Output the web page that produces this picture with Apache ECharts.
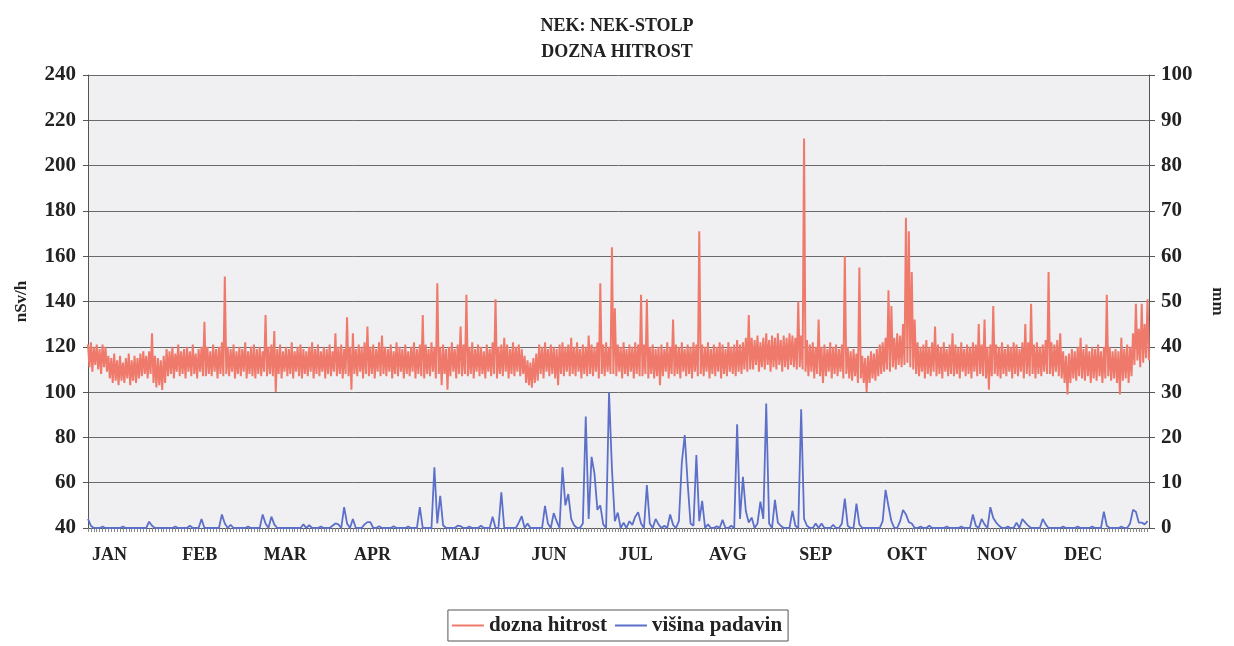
<!DOCTYPE html>
<html>
<head>
<meta charset="utf-8">
<title>NEK: NEK-STOLP – DOZNA HITROST</title>
<script src="https://cdn.jsdelivr.net/npm/echarts@6/dist/echarts.min.js"></script>
<style>
  html, body { margin: 0; padding: 0; background: #ffffff; }
  #chart { width: 1234px; height: 646px; }
</style>
</head>
<body>
<div id="chart"></div>
<script>
// Month names and the day index (0-based) on which each month starts
const monthNames = ['JAN', 'FEB', 'MAR', 'APR', 'MAJ', 'JUN', 'JUL', 'AVG', 'SEP', 'OKT', 'NOV', 'DEC'];
const monthStarts = [0, 31, 59, 90, 120, 151, 181, 212, 243, 273, 304, 334];

// Axis ranges
const doseTicks = { min: 40, max: 240, step: 20 };
const rainTicks = { min: 0, max: 100, step: 10 };

// Daily maximum of the dose rate, nSv/h
const doseMax = [
  121,122,120,121,119,121,120,116,115,117,
  114,116,113,115,117,114,116,115,117,118,
  116,118,126,116,115,114,116,119,118,120,
  117,121,118,119,120,118,121,117,119,120,
  131,120,118,121,119,120,122,151,120,119,
  121,118,120,119,122,118,120,121,119,120,
  118,134,120,121,127,119,121,118,120,119,
  122,118,120,121,119,118,120,122,119,121,
  118,120,119,121,118,126,120,121,119,133,
  120,126,119,121,120,122,129,120,121,119,
  122,125,120,119,121,118,122,120,119,121,
  118,120,122,119,121,134,121,119,122,120,
  148,120,121,119,120,122,119,121,129,121,
  143,120,122,119,121,120,118,121,119,122,
  141,120,121,124,121,119,122,120,121,119,
  116,114,113,115,117,121,120,122,119,121,
  120,119,121,122,120,121,124,120,122,119,
  121,120,125,121,120,122,148,121,122,120,
  164,137,121,120,122,119,121,120,122,121,
  143,121,141,120,121,119,120,121,119,122,
  120,132,121,120,122,119,121,120,122,121,
  171,121,120,122,119,121,120,122,121,119,
  122,120,121,123,121,122,124,134,124,123,
  125,122,124,126,123,125,124,126,123,125,
  124,126,125,124,140,125,212,123,121,122,
  120,132,120,121,119,122,120,121,119,121,
  160,120,118,119,117,155,116,115,116,118,
  117,119,121,122,124,145,138,124,126,125,
  130,177,171,153,132,122,120,121,123,120,
  122,129,121,120,122,119,121,126,121,120,
  122,119,121,120,122,121,130,121,132,120,
  121,138,121,120,122,119,121,120,122,121,
  119,122,130,122,139,121,122,120,121,123,
  153,122,121,123,126,118,116,117,119,118,
  120,124,119,121,118,120,119,121,118,120,
  143,120,118,119,118,124,119,121,120,126,
  139,128,139,130,141
];

// Daily minimum of the dose rate, nSv/h
const doseMin = [
  111,109,112,110,108,111,109,106,104,105,
  103,105,104,106,103,105,104,106,107,108,
  106,108,104,102,103,101,104,107,108,106,
  109,107,108,106,109,107,108,106,109,107,
  107,108,107,109,106,108,107,108,107,109,
  106,108,107,109,106,108,107,106,108,107,
  109,107,108,107,100,108,106,109,107,108,
  106,109,107,106,108,107,109,106,108,107,
  109,106,108,107,109,107,108,106,108,107,
  101,108,107,109,106,108,107,108,106,109,
  107,108,107,109,106,108,107,109,106,108,
  107,109,106,108,107,106,108,107,109,106,
  108,103,108,101,107,109,106,108,107,108,
  107,108,106,109,107,108,106,109,107,108,
  106,108,107,109,106,108,107,109,107,108,
  104,103,102,104,105,108,106,109,107,108,
  106,103,108,107,109,107,108,107,109,106,
  108,107,108,107,109,106,108,107,109,108,
  108,107,109,106,108,107,109,106,108,107,
  107,108,106,108,106,107,103,107,109,106,
  108,107,108,106,109,107,108,106,109,107,
  108,107,109,106,108,107,109,106,108,107,
  109,108,107,109,108,110,109,110,110,112,
  109,111,110,112,109,111,110,112,109,111,
  110,112,111,110,111,110,109,107,109,106,
  108,107,104,107,109,106,108,107,109,106,
  108,106,105,107,104,106,104,100,104,106,
  105,107,108,109,110,109,111,110,112,111,
  112,113,111,110,108,107,109,106,108,107,
  109,107,108,106,109,107,108,107,108,106,
  109,107,108,106,109,107,108,107,106,101,
  107,108,107,106,108,107,109,106,108,107,
  109,106,108,107,108,106,108,107,109,108,
  108,107,109,107,106,104,99,104,106,105,
  107,106,105,107,104,106,105,107,104,106,
  107,105,106,104,99,105,106,104,107,112,
  114,111,113,115,114
];

// Daily precipitation, mm
const rainfall = [
  2,0.5,0,0,0,0.3,0,0,0,0,
  0,0,0.3,0,0,0,0,0,0,0,
  0,1.4,0.5,0,0,0,0,0,0,0,
  0.3,0,0,0,0,0.5,0,0,0,2,
  0,0,0,0,0,0,3,1,0,0.7,
  0,0,0,0,0,0.3,0,0,0,0,
  3,1,0,2.5,0.8,0,0,0,0,0,
  0,0,0,0,0.8,0,0.6,0,0,0,
  0.3,0,0,0,0.5,1,0.8,0,4.6,1,
  0,2,0,0,0,0.8,1.3,1.3,0,0,
  0.4,0,0,0,0,0.4,0,0,0,0,
  0.3,0,0,0,4.6,0,0,0,0,13.4,
  1,7.1,0.6,0,0,0,0,0.5,0.4,0,
  0,0.3,0,0,0,0.5,0,0,0,2.5,
  0,0,7.9,0,0,0,0,0,1.2,2.6,
  0,1,0,0,0,0,0,4.9,1,0,
  3.3,1.5,0,13.4,5,7.5,2,0.6,0,0,
  1,24.6,2,15.7,12,4,5,0.8,0,29.9,
  13,1.5,3.4,0,1.2,0,1.5,0.7,2.5,3.5,
  1,0,9.5,1,0,2,0.8,0,0.5,0,
  3,0.7,0,1.5,14.4,20.5,10,1,0.5,16.1,
  1.5,6,0,0.8,0,0,0.4,0,1.8,0,
  0,0.5,0,22.9,2,11.3,3.7,1.2,2.3,0,
  1,5.8,2,27.5,1,0,6.2,1.2,0.5,0,
  0,0,3.8,0.5,0,26.2,2,0.5,0,0,
  1,0,1,0,0,0,0.7,0,0,1,
  6.5,0.5,0,0,5.4,0.8,0,0,0,0,
  0,0,0,1.5,8.4,4.8,1.5,0,0,1.5,
  4,3,1.3,1,0,0,0.3,0,0,0.5,
  0,0,0,0,0,0.3,0,0,0,0,
  0.3,0,0,0,3,0.5,0,2,0.8,0,
  4.6,2.2,1.2,0.5,0,0,0.3,0,0,1.2,
  0,2,1.2,0.5,0,0,0,0,2,0.8,
  0,0,0,0,0,0.3,0,0,0,0,
  0.3,0,0,0,0,0.3,0,0,0,3.6,
  0.5,0,0,0,0,0.3,0,0,1,4,
  3.6,1.2,1.2,0.8,1.5
];

// Half-day slots: each day contributes its maximum and then its minimum,
// which draws the dose rate as a dense trace between the two.
const slots = [];
const doseTrace = [];
doseMax.forEach((hi, d) => {
  slots.push(String(2 * d), String(2 * d + 1));
  doseTrace.push(hi, doseMin[d]);
});
const rainTrace = rainfall.map((mm, d) => [2 * d, mm]);

const monthAt = {};
monthStarts.forEach((d, k) => { monthAt[2 * d] = monthNames[k]; });

const serif = "'Liberation Serif', 'DejaVu Serif', serif";
const ink = '#222222';
const gridInk = '#6a6a6a';

const chart = echarts.init(document.getElementById('chart'), null, { renderer: 'canvas' });

chart.setOption({
  backgroundColor: '#ffffff',
  animation: false,
  title: {
    text: 'NEK: NEK-STOLP\nDOZNA HITROST',
    left: 'center',
    top: 8,
    textStyle: {
      fontFamily: serif, fontWeight: 'bold', fontSize: 18, lineHeight: 26, color: ink
    }
  },
  legend: {
    bottom: 5,
    left: 'center',
    itemWidth: 32,
    itemHeight: 2,
    itemGap: 8,
    padding: [5, 6, 5, 4],
    borderColor: '#555555',
    borderWidth: 1,
    textStyle: { fontFamily: serif, fontWeight: 'bold', fontSize: 21, color: ink },
    data: [
      { name: 'dozna hitrost', icon: 'rect' },
      { name: 'višina padavin', icon: 'rect' }
    ]
  },
  grid: {
    left: 88, right: 84, top: 75, bottom: 118,
    show: true,
    backgroundColor: '#f0f0f2',
    borderWidth: 0
  },
  xAxis: {
    type: 'category',
    data: slots,
    boundaryGap: false,
    axisLine: { show: true, lineStyle: { color: '#555555', width: 1 } },
    axisTick: {
      show: true, interval: (i) => i % 2 === 0, length: 4, inside: false,
      lineStyle: { color: '#888888', width: 1 }
    },
    axisLabel: {
      interval: (i) => monthAt[i] !== undefined,
      formatter: (v) => monthAt[Number(v)] || '',
      align: 'left',
      padding: [0, 0, 0, 4],
      margin: 18,
      fontFamily: serif, fontWeight: 'bold', fontSize: 18, color: ink
    },
    splitLine: { show: false }
  },
  yAxis: [
    {
      type: 'value',
      min: doseTicks.min, max: doseTicks.max, interval: doseTicks.step,
      name: 'nSv/h',
      nameLocation: 'middle',
      nameRotate: 90,
      nameGap: 58,
      nameTextStyle: { fontFamily: serif, fontWeight: 'bold', fontSize: 17, color: ink },
      axisLine: { show: true, lineStyle: { color: '#555555' } },
      axisTick: { show: true, length: 5, lineStyle: { color: '#555555' } },
      axisLabel: { margin: 12, fontFamily: serif, fontWeight: 'bold', fontSize: 21, color: ink },
      splitLine: { show: true, lineStyle: { color: gridInk, width: 1 } }
    },
    {
      type: 'value',
      min: rainTicks.min, max: rainTicks.max, interval: rainTicks.step,
      position: 'right',
      name: 'mm',
      nameLocation: 'middle',
      nameRotate: -90,
      nameGap: 60,
      nameTextStyle: { fontFamily: serif, fontWeight: 'bold', fontSize: 17, color: ink },
      axisLine: { show: true, lineStyle: { color: '#555555' } },
      axisTick: { show: true, length: 6, lineStyle: { color: '#555555' } },
      axisLabel: { margin: 12, fontFamily: serif, fontWeight: 'bold', fontSize: 21, color: ink },
      splitLine: { show: false }
    }
  ],
  series: [
    {
      name: 'dozna hitrost',
      type: 'line',
      yAxisIndex: 0,
      data: doseTrace,
      showSymbol: false,
      symbol: 'none',
      color: '#ef7a6b',
      lineStyle: { color: '#ef7a6b', width: 2 },
      z: 3
    },
    {
      name: 'višina padavin',
      type: 'line',
      yAxisIndex: 1,
      data: rainTrace,
      showSymbol: false,
      symbol: 'none',
      color: '#5d70c9',
      lineStyle: { color: '#5d70c9', width: 1.8 },
      z: 2
    }
  ]
});
</script>
</body>
</html>
